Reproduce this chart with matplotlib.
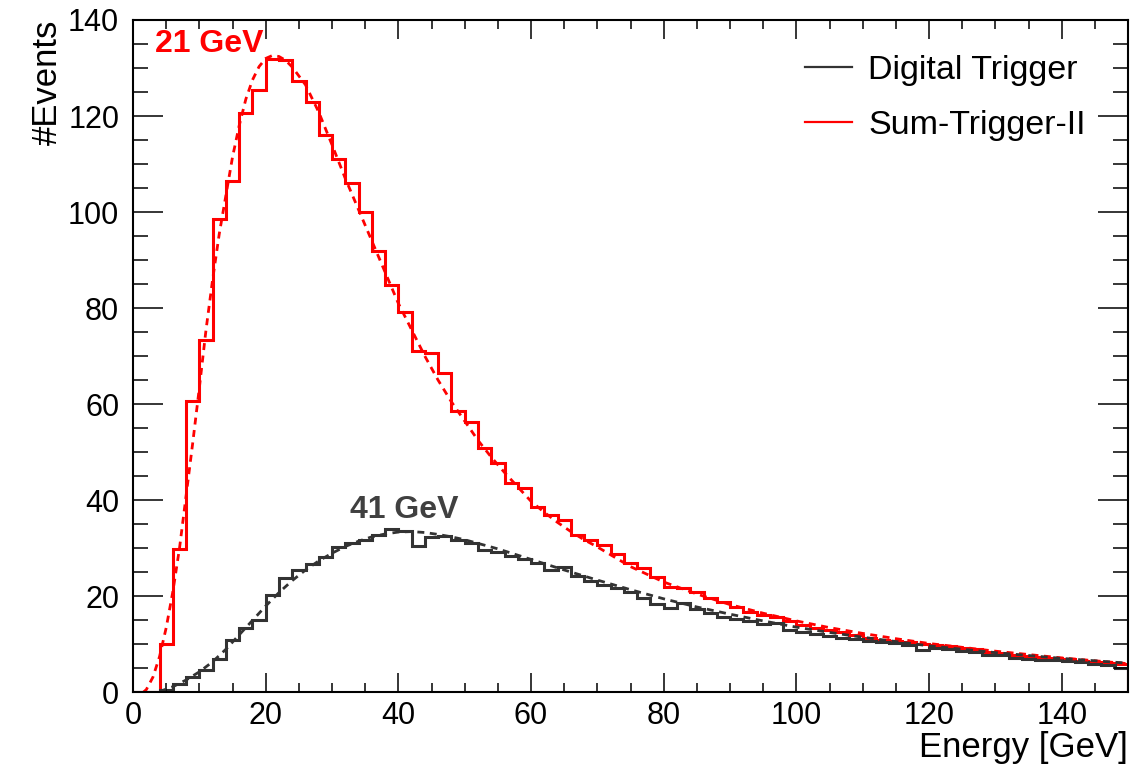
import numpy as np
import matplotlib
matplotlib.use("Agg")
import matplotlib.pyplot as plt
from matplotlib.lines import Line2D
from matplotlib.ticker import MultipleLocator

plt.rcParams['font.family'] = ['Liberation Sans', 'DejaVu Sans']

# histogram binning: 2 GeV bins from 0 to 150 GeV
bin_edges = np.arange(0, 152, 2)

# Sum-Trigger-II counts per bin
sum_trigger = [0, 0, 10, 29.8, 60.6, 73.4, 98.5, 106.5, 120.7, 125.4,
               131.8, 131.6, 127.2, 123.0, 116.1, 111.1, 106.1, 100.1, 91.9, 84.9,
               79.3, 71.0, 70.7, 66.5, 58.5, 56.4, 50.9, 47.7, 43.6, 42.5,
               38.7, 37.0, 36.0, 32.8, 31.8, 30.7, 28.9, 26.9, 25.9, 24.1,
               22.0, 21.8, 21.0, 19.6, 18.9, 17.9, 16.8, 16.1, 15.8, 14.8,
               14.1, 13.4, 13.0, 12.5, 12.0, 11.3, 11.0, 10.8, 10.5, 10.1,
               9.9, 9.6, 9.3, 9.0, 8.5, 8.2, 7.7, 7.5, 7.3, 7.1,
               6.9, 6.6, 6.4, 6.2, 5.9]

# Digital Trigger counts per bin
digital = [0, 0, 0.5, 1.7, 3.3, 4.6, 7.0, 11.0, 13.5, 15.1,
           20.3, 23.8, 25.6, 26.8, 28.3, 30.2, 31.1, 31.7, 32.8, 34.1,
           33.6, 30.4, 32.4, 32.5, 31.7, 31.1, 29.7, 29.3, 28.4, 27.7,
           27.0, 25.5, 26.2, 24.3, 23.3, 22.4, 21.7, 21.0, 19.6, 18.4,
           17.5, 18.6, 17.3, 16.5, 15.8, 15.2, 14.8, 14.3, 14.4, 13.0,
           12.5, 12.1, 11.8, 11.4, 11.1, 10.8, 10.6, 10.3, 9.9, 8.9,
           9.2, 9.1, 8.6, 8.4, 7.8, 7.7, 7.1, 6.9, 6.8, 6.7,
           6.5, 6.3, 5.9, 5.7, 5.1]

# fitted curves
sum_fit_x = [1.5, 2, 3, 4, 5, 6, 7, 8, 9, 10, 11, 12, 13, 14, 15, 16, 17, 18, 19,
             20, 21, 22, 23, 24, 26, 28, 30, 32, 34, 36, 38, 40, 42, 44, 46, 48,
             50, 52, 54, 56, 58, 60, 62, 64, 66, 68, 70, 75, 80, 85, 90, 95, 100,
             105, 110, 115, 120, 125, 130, 135, 140, 145, 150]
sum_fit_y = [0, 0.6, 3.2, 7.5, 13.5, 21, 30, 41, 52, 63.5, 75.5, 86, 95.5, 103.5,
             111.5, 118, 123.5, 127.5, 130.3, 132, 132.6, 132.4, 131.6, 130.2,
             126.5, 120.8, 114, 107, 100.5, 94, 87.5, 81, 75.5, 70, 65, 60.5,
             56.5, 52.5, 49, 45.8, 42.8, 39.8, 37.5, 35.4, 33.5, 31.8, 30.3,
             26.2, 23, 20.5, 18.3, 16.5, 14.9, 13.5, 12.3, 11.2, 10.2, 9.4,
             8.6, 7.9, 7.2, 6.6, 6.0]

dig_fit_x = [4, 6, 8, 10, 12, 14, 16, 18, 20, 22, 24, 26, 28, 30, 32, 34, 36, 38,
             40, 42, 44, 46, 48, 50, 55, 60, 65, 70, 75, 80, 85, 90, 95, 100,
             105, 110, 115, 120, 125, 130, 135, 140, 145, 150]
dig_fit_y = [0.2, 1.2, 2.6, 4.3, 6.4, 9.0, 12.0, 15.0, 18.0, 20.8, 23.3, 25.5,
             27.4, 29.0, 30.4, 31.5, 32.4, 33.0, 33.4, 33.5, 33.3, 32.9, 32.4,
             31.8, 29.9, 27.7, 25.5, 23.4, 21.4, 19.5, 17.8, 16.3, 14.9, 13.6,
             12.5, 11.5, 10.6, 9.7, 9.0, 8.3, 7.7, 7.1, 6.6, 6.1]

red = '#ff0000'
dark = '#333333'

fig = plt.figure(figsize=(11.48, 7.69), dpi=100)
ax = fig.add_axes([0.1159, 0.0995, 0.8667, 0.8745])

ax.stairs(sum_trigger, bin_edges, color=red, lw=2.2)
ax.stairs(digital, bin_edges, color=dark, lw=2.2)
ax.plot(sum_fit_x, sum_fit_y, color=red, lw=2, ls=(0, (2.5, 2)))
ax.plot(dig_fit_x, dig_fit_y, color=dark, lw=2, ls=(0, (2.5, 2)))

ax.text(3.3, 134.9, '21 GeV', color=red, fontsize=23, fontweight='bold', va='center')
ax.text(32.7, 38.0, '41 GeV', color='#404040', fontsize=23, fontweight='bold', va='center')

ax.set_xlim(0, 150)
ax.set_ylim(0, 140)
ax.xaxis.set_major_locator(MultipleLocator(20))
ax.xaxis.set_minor_locator(MultipleLocator(5))
ax.yaxis.set_major_locator(MultipleLocator(20))
ax.yaxis.set_minor_locator(MultipleLocator(5))
ax.tick_params(which='both', direction='in', top=True, right=True, width=1.1,
               labelsize=22, colors='black')
ax.tick_params(axis='x', which='major', length=13.7, pad=6)
ax.tick_params(axis='x', which='minor', length=6.5)
ax.tick_params(axis='y', which='major', length=21.6, pad=10)
ax.tick_params(axis='y', which='minor', length=10.8)
for s in ax.spines.values():
    s.set_linewidth(1.5)

ax.set_xlabel('Energy [GeV]', fontsize=25, loc='right')
ax.set_ylabel('#Events', fontsize=25, loc='top')
ax.xaxis.set_label_coords(1.0, -0.058)
ax.yaxis.set_label_coords(-0.07, 1.0)

handles = [Line2D([], [], color=dark, lw=1.6), Line2D([], [], color=red, lw=1.6)]
ax.legend(handles, ['Digital Trigger', 'Sum-Trigger-II'], loc='upper left',
          bbox_to_anchor=(0.675, 0.948), frameon=False, fontsize=24.5,
          borderaxespad=0, borderpad=0, handlelength=1.4, handletextpad=0.47,
          labelspacing=0.7)

fig.savefig('out.png', dpi=100)
